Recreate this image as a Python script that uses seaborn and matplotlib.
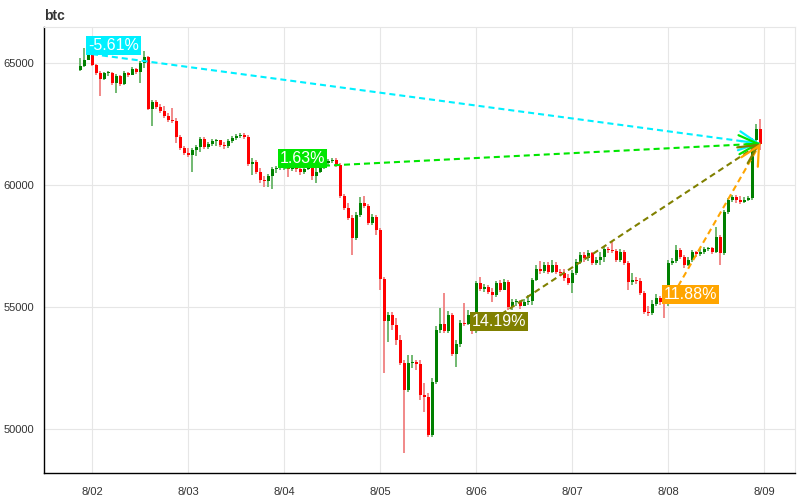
import numpy as np
import pandas as pd
import matplotlib
matplotlib.use('Agg')
import matplotlib.pyplot as plt
import seaborn as sns

# hourly btc candles, first candle is 8/01 21:00 (hour -3, hours counted from 8/02 00:00)
first_hour = -3
first_open = 64710

close = [
    64880, 65120, 65370, 64920, 64590, 64340, 64590, 64610, 64180, 64470,
    64140, 64590, 64510, 64750, 64630, 65000, 65250, 63110, 63400, 63200,
    63030, 62830, 62660, 62620, 61970, 61520, 61310, 61230, 61430, 61560,
    61890, 61560, 61680, 61800, 61840, 61640, 61600, 61800, 61930, 62010,
    62050, 61970, 60860, 60940, 60530, 60210, 60160, 60370, 60660, 60700,
    60710, 60740, 60660, 60700, 60660, 60530, 60660, 60700, 60370, 60530,
    60740, 60900, 60980, 61030, 60820, 59550, 59060, 58650, 57830, 58770,
    59260, 59140, 58440, 58690, 58160, 56150, 54430, 54670, 54260, 53650,
    52710, 51600, 52710, 52750, 52670, 51390, 51310, 49760, 51930, 54060,
    54300, 54020, 54670, 53080, 53490, 54350, 54300, 54670, 54030, 55980,
    55740, 55820, 55620, 55490, 55980, 55700, 56030, 55000, 55210, 55250,
    55040, 55210, 55250, 56110, 56560, 56480, 56720, 56440, 56720, 56440,
    56390, 56190, 55980, 56390, 56850, 57130, 57010, 57210, 56800, 56930,
    57050, 57380, 57340, 57300, 56930, 57260, 56800, 56030, 56110, 56070,
    55570, 54800, 54760, 55120, 55370, 55210, 55150, 56800, 56890, 57340,
    57050, 56720, 56930, 57260, 57170, 57260, 57380, 57420, 57260, 57870,
    57210, 58890, 59390, 59510, 59390, 59300, 59390, 59470, 61840, 62290,
    61700,
]

high = [
    65200, 65610, 65490, 65410, 64960, 64670, 64630, 64670, 64630, 64550,
    64510, 64670, 64630, 64840, 64800, 65080, 65490, 65290, 63480, 63480,
    63320, 63240, 62950, 63160, 62750, 62050, 61600, 61520, 61520, 61640,
    61970, 61970, 61760, 61890, 61890, 61840, 61760, 61890, 62010, 62090,
    62130, 62130, 62050, 61110, 61030, 60700, 60370, 60450, 60740, 60780,
    60820, 60820, 60780, 60780, 60780, 60740, 60780, 60780, 60780, 60700,
    60820, 60980, 61070, 61110, 61110, 60900, 59630, 59260, 58770, 58890,
    59510, 59550, 59220, 58810, 58770, 58240, 56230, 54800, 54800, 54550,
    53850, 52830, 53030, 53030, 52830, 52830, 51890, 51480, 52090, 54220,
    54960, 55570, 54840, 54760, 53650, 54470, 55160, 54880, 54760, 56070,
    56230, 55940, 55900, 55780, 56070, 56110, 56150, 56110, 55330, 55330,
    55290, 55330, 55490, 56190, 56720, 56890, 56850, 56850, 56930, 56850,
    56560, 56560, 56350, 56520, 56970, 57260, 57260, 57340, 57260, 57050,
    57260, 57500, 57460, 57660, 57380, 57380, 57340, 56890, 56390, 56230,
    56190, 55660, 55040, 55290, 55530, 55450, 55290, 56930, 57010, 57540,
    57420, 57130, 57050, 57340, 57300, 57380, 57460, 57460, 57460, 58280,
    57950, 58980, 59470, 59590, 59590, 59550, 59510, 59550, 61930, 62500,
    62710,
]

low = [
    64670, 64840, 65120, 64880, 64510, 63650, 64300, 64470, 64100, 63770,
    64060, 64100, 64430, 64550, 64550, 64180, 64800, 63070, 62420, 63110,
    62950, 62750, 62580, 62540, 61720, 61430, 61230, 61150, 60530, 61190,
    61350, 61480, 61480, 61600, 61600, 61560, 61480, 61520, 61720, 61840,
    61930, 61890, 60780, 60410, 60450, 60080, 59920, 59920, 59840, 60490,
    60620, 60620, 60330, 60580, 60530, 60410, 60450, 60620, 60210, 60080,
    60490, 60660, 60820, 60900, 60740, 59470, 58980, 58570, 57130, 57750,
    58690, 59060, 58360, 58360, 57950, 55700, 52300, 53570, 54060, 53440,
    52620, 49020, 51520, 52500, 52420, 51190, 50700, 49670, 49670, 51840,
    53940, 53940, 53940, 52990, 52540, 53360, 54220, 54260, 53890, 53940,
    55660, 55620, 55530, 55210, 55410, 55620, 55700, 54880, 54880, 55040,
    54920, 55080, 55080, 55080, 56070, 56350, 56390, 56350, 56390, 56350,
    56270, 56070, 55900, 55570, 56310, 56760, 56850, 56890, 56720, 56720,
    56720, 56850, 57210, 57210, 56850, 56850, 56720, 55700, 55900, 55940,
    55490, 54710, 54630, 54670, 55040, 55080, 54550, 55040, 56720, 56800,
    56970, 56600, 56680, 56850, 57050, 57090, 57170, 57300, 57170, 57210,
    56720, 57130, 58810, 59300, 59260, 59220, 59260, 59340, 59390, 61640,
    61430,
]

day_ticks = [0, 24, 48, 72, 96, 120, 144, 168]
day_labels = ['8/02', '8/03', '8/04', '8/05', '8/06', '8/07', '8/08', '8/09']
price_ticks = [50000, 55000, 60000, 65000]

# change from each day's start to the last close
trend_hours = [0, 48, 96, 144]
trend_prices = [65370, 60710, 54030, 55150]
trend_labels = ['-5.61%', '1.63%', '14.19%', '11.88%']
trend_colors = ['#00f0ff', '#00e600', '#808000', '#ffa500']

df = pd.DataFrame({
    'hour': np.arange(len(close)) + first_hour,
    'open': [first_open] + close[:-1],
    'close': close,
    'high': high,
    'low': low,
})
df['up'] = df['close'] >= df['open']

sns.set_theme(style='whitegrid')
plt.rcParams['font.family'] = ['Liberation Sans', 'DejaVu Sans']

fig = plt.figure(figsize=(8, 5), dpi=100)
ax = fig.add_axes([0.055, 0.054, 0.939, 0.892])

# wicks
wick_colors = np.where(df['up'], '#66b366', '#f08080')
ax.vlines(df['hour'], df['low'], df['high'], colors=wick_colors, lw=1.3, zorder=2)

# bodies
body = df['close'] - df['open']
body = np.where(body.abs() < 40, np.where(body >= 0, 40, -40), body)
body_colors = np.where(df['up'], '#008000', '#ff0000')
ax.bar(df['hour'], body, bottom=df['open'], width=0.75, color=body_colors,
       linewidth=0, zorder=3)

# trend lines to the last close
end_hour = df['hour'].iloc[-1]
end_price = df['close'].iloc[-1]
for h, p, lab, c in zip(trend_hours, trend_prices, trend_labels, trend_colors):
    ax.plot([h, end_hour], [p, end_price], color=c, lw=1.5,
            linestyle=(0, (2.9, 1.9)), zorder=4)
    back = 0.03
    ax.annotate('', xy=(end_hour, end_price),
                xytext=(end_hour - (end_hour - h) * back, end_price - (end_price - p) * back),
                arrowprops=dict(arrowstyle='->,head_length=0.75,head_width=0.38',
                                color=c, lw=1.6, shrinkA=0, shrinkB=0,
                                mutation_scale=18),
                zorder=5)
    ax.annotate(lab, xy=(h, p), xytext=(-3, 1), textcoords='offset points',
                ha='left', va='bottom', color='white', fontsize=11.5,
                bbox=dict(boxstyle='square,pad=0.12', fc=c, ec='none'), zorder=6)

ax.set_xlim(-12, 175.75)
ax.set_ylim(48200, 66480)
ax.set_xticks(day_ticks)
ax.set_xticklabels(day_labels)
ax.set_yticks(price_ticks)
ax.set_yticklabels([str(v) for v in price_ticks])
ax.grid(True, color='#e6e6e6', lw=0.8)
ax.set_axisbelow(True)

ax.tick_params(axis='both', length=4, width=1, color='black', direction='out',
               labelsize=8, labelcolor='#333333')
ax.tick_params(axis='x', pad=6)
ax.tick_params(axis='y', pad=3)

for side in ['left', 'bottom']:
    ax.spines[side].set_color('black')
    ax.spines[side].set_linewidth(1.0)
for side in ['top', 'right']:
    ax.spines[side].set_color('#e6e6e6')
    ax.spines[side].set_linewidth(0.8)

ax.set_title('btc', loc='left', fontweight='bold', fontsize=10, color='#333333', pad=5)

fig.savefig('out.png', dpi=100)
